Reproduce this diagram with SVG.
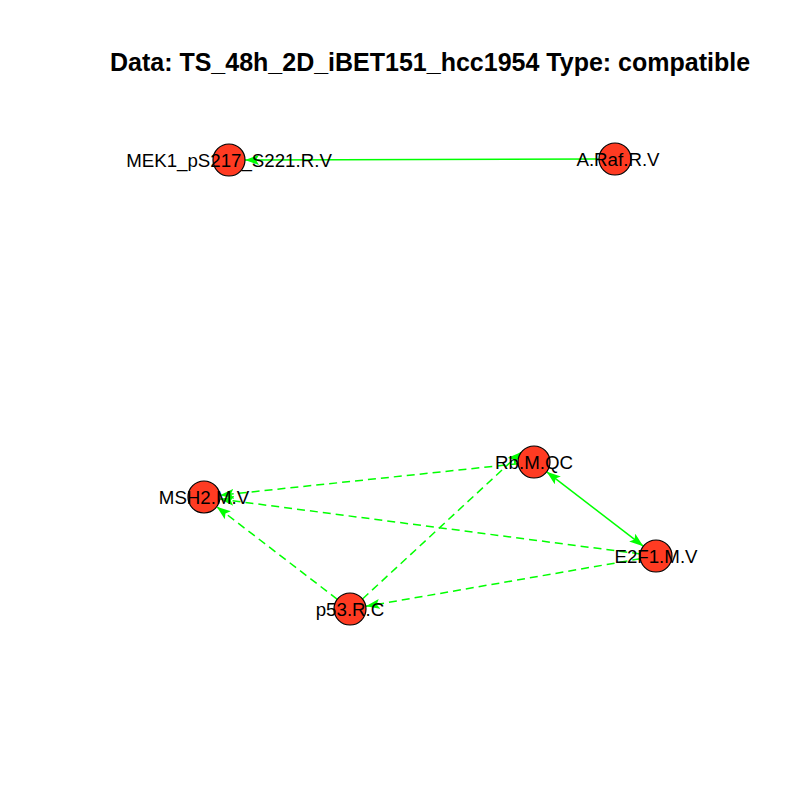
<svg xmlns="http://www.w3.org/2000/svg" width="800" height="800" viewBox="0 0 800 800">
<style>
.e{stroke:#00ff00;stroke-width:1.5;fill:none}
.d{stroke-dasharray:8,5}
.n{fill:#ff3b22;stroke:#000;stroke-width:1.2}
.l{font-family:"Liberation Sans",Arial,sans-serif;font-size:18.7px;fill:#000;text-anchor:middle}
.t{font-family:"Liberation Sans",Arial,sans-serif;font-size:25px;font-weight:bold;fill:#000;text-anchor:middle}
</style>
<defs>
<marker id="a" markerUnits="userSpaceOnUse" markerWidth="16" markerHeight="10" refX="14" refY="5" orient="auto-start-reverse" viewBox="0 0 16 10">
<path d="M0,0 L14,5 L0,10 L3,5 Z" fill="#00ff00"/>
</marker>
</defs>
<rect width="800" height="800" fill="#fff"/>
<text class="t" x="430" y="71">Data: TS_48h_2D_iBET151_hcc1954 Type: compatible</text>
<g id="edges">
<line class="e" x1="599" y1="159" x2="245" y2="160" marker-end="url(#a)"/>
<line class="e d" x1="518.1" y1="463.7" x2="219.9" y2="495.3" marker-end="url(#a)"/>
<line class="e d" x1="640.1" y1="553.9" x2="219.9" y2="499.1" marker-end="url(#a)"/>
<line class="e d" x1="337.3" y1="599.3" x2="216.7" y2="506.7" marker-end="url(#a)"/>
<line class="e d" x1="362.5" y1="599.0" x2="521.5" y2="452.0" marker-end="url(#a)"/>
<line class="e d" x1="640.2" y1="558.7" x2="365.8" y2="606.3" marker-end="url(#a)"/>
<line class="e" x1="546.7" y1="471.8" x2="643.3" y2="546.2" marker-start="url(#a)" marker-end="url(#a)"/>
</g>
<g id="MEK1"><circle class="n" cx="229" cy="160" r="16"/><text class="l" x="229" y="166.5">MEK1_pS217_S221.R.V</text></g>
<g id="ARaf"><circle class="n" cx="615" cy="159" r="16"/><text class="l" x="618" y="165.5">A.Raf.R.V</text></g>
<g id="Rb"><circle class="n" cx="534" cy="462" r="16"/><text class="l" x="534" y="468.5">Rb.M.QC</text></g>
<g id="MSH2"><circle class="n" cx="204" cy="497" r="16"/><text class="l" x="204" y="503.5">MSH2.M.V</text></g>
<g id="E2F1"><circle class="n" cx="656" cy="556" r="16"/><text class="l" x="656" y="562.5">E2F1.M.V</text></g>
<g id="p53"><circle class="n" cx="350" cy="609" r="16"/><text class="l" x="350" y="615.5">p53.R.C</text></g>
</svg>
